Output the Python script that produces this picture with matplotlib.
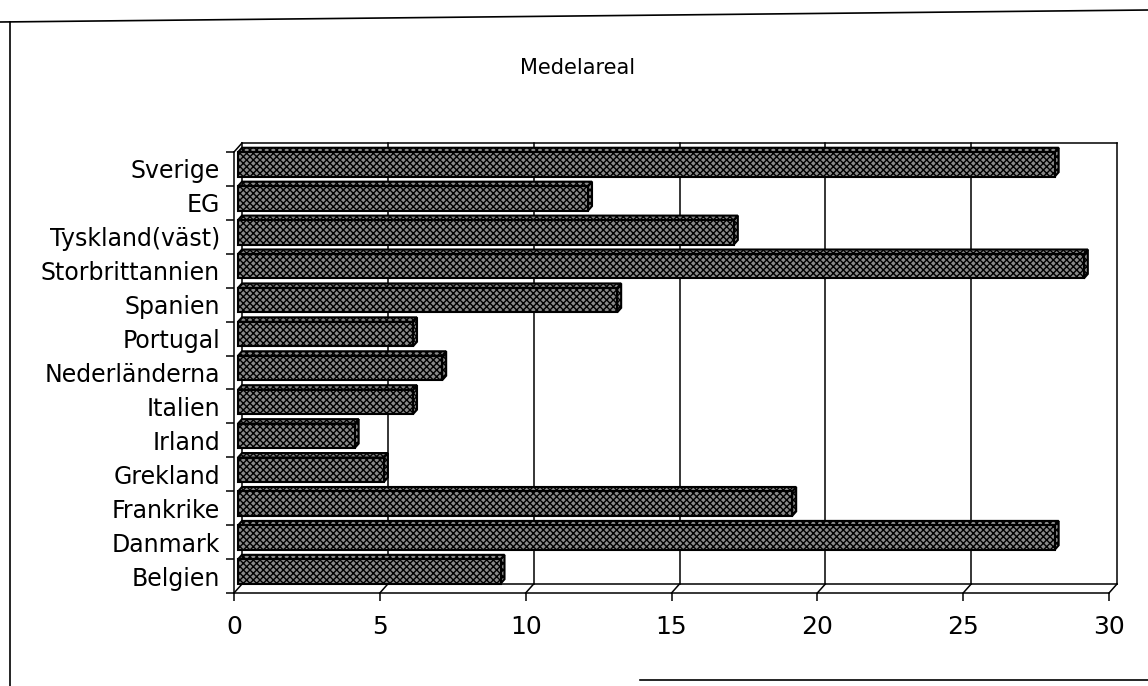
import matplotlib
matplotlib.use("Agg")
import matplotlib.pyplot as plt
from matplotlib.patches import Polygon
from matplotlib.lines import Line2D

# data, top row first as in the chart
countries = ['Sverige', 'EG', 'Tyskland(väst)', 'Storbrittannien', 'Spanien',
             'Portugal', 'Nederländerna', 'Italien', 'Irland', 'Grekland',
             'Frankrike', 'Danmark', 'Belgien']
medelareal = [28, 12, 17, 29, 13, 6, 7, 6, 4, 5, 19, 28, 9]
x_ticks = [0, 5, 10, 15, 20, 25, 30]
title = 'Medelareal'

W, H = 1148, 686
fig = plt.figure(figsize=(W / 100, H / 100), dpi=100)
ax = fig.add_axes([234 / W, 1 - 593 / H, 875 / W, 441 / H])
n = len(countries)
ax.set_xlim(0, 30)
ax.set_ylim(-0.5, n - 0.5)

# depth of the 3D box in data units (about 8 px right, 9 px up)
dx = 8 / (875 / 30)
dy = 9 / (441 / n)
ypos = [n - 1 - i for i in range(n)]

line_kw = dict(color='black', lw=1.1, clip_on=False, zorder=1)

# back wall, right wall and floor
top = n - 0.5 + dy
bot = -0.5 + dy
ax.plot([dx, 30 + dx], [top, top], **line_kw)
ax.plot([30 + dx, 30 + dx], [bot, top], **line_kw)
ax.plot([dx, dx], [bot, top], **line_kw)
ax.plot([0, 0], [-0.5, n - 0.5], **line_kw)
ax.plot([0, dx], [n - 0.5, top], **line_kw)
ax.plot([0, 30], [-0.5, -0.5], **line_kw)
ax.plot([dx, 30 + dx], [bot, bot], **line_kw)
for t in x_ticks:
    ax.plot([t, t + dx], [-0.5, bot], **line_kw)
    if 0 < t < 30:
        ax.plot([t + dx, t + dx], [bot, top], **line_kw)

# 3D bars
h = 0.72
f0, f1 = 0.5, 1.0
patch_kw = dict(facecolor='#8a8a8a', edgecolor='black', hatch='xxxxx',
                lw=1.5, zorder=3, clip_on=False)
for y, v in zip(ypos, medelareal):
    x0 = f0 * dx
    y0 = y - h / 2 + f0 * dy
    ox, oy = (f1 - f0) * dx, (f1 - f0) * dy
    front = [(x0, y0), (x0 + v, y0), (x0 + v, y0 + h), (x0, y0 + h)]
    topf = [(x0, y0 + h), (x0 + v, y0 + h), (x0 + v + ox, y0 + h + oy), (x0 + ox, y0 + h + oy)]
    side = [(x0 + v, y0), (x0 + v + ox, y0 + oy), (x0 + v + ox, y0 + h + oy), (x0 + v, y0 + h)]
    for pts in (side, topf, front):
        ax.add_patch(Polygon(pts, closed=True, **patch_kw))

# ticks and labels
ax.set_xticks(x_ticks)
ax.set_xticklabels([str(t) for t in x_ticks], fontsize=18)
ax.tick_params(axis='x', length=6, width=1.1, direction='out', pad=10)
ax.set_yticks(ypos)
ax.set_yticklabels(countries, fontsize=17)
ax.tick_params(axis='y', length=0, pad=10)
ax.set_yticks([k - 0.5 for k in range(n + 1)], minor=True)
ax.tick_params(axis='y', which='minor', length=6, width=1.1, direction='out')
for s in ax.spines.values():
    s.set_visible(False)
ax.patch.set_alpha(0)

fig.text(578 / W, 1 - 68 / H, title, fontsize=15, ha='center', va='center')

# scanned frame around the chart
def fline(x0, y0, x1, y1):
    fig.add_artist(Line2D([x0 / W, x1 / W], [1 - y0 / H, 1 - y1 / H],
                          transform=fig.transFigure, color='black', lw=1.2))

fline(0, 22, W, 10)
fline(10, 22, 10, H)
fline(640, 680, W, 680)

fig.savefig('out.png', dpi=100)
